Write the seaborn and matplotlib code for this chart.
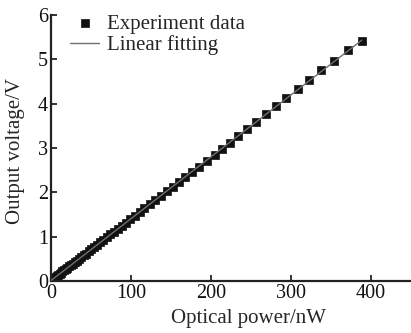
import matplotlib
matplotlib.use("Agg")
import matplotlib.pyplot as plt
import seaborn as sns
import pandas as pd
import numpy as np

power_nw = [0.6, 1.9, 3.2, 4.6, 6.1, 7.6, 9.2, 10.9, 12.6, 14.4, 16.3, 18.3,
            20.4, 22.6, 24.9, 27.3, 29.8, 32.4, 35.1, 37.9, 40.8, 43.9, 47.1,
            50.5, 54.0, 57.7, 61.5, 65.5, 69.7, 74.1, 78.7, 83.5, 88.5, 93.7,
            99.1, 104.8, 110.7, 116.9, 123.4, 130.2, 137.2, 144.6, 152.3, 160.6,
            168.1, 176.5, 185.6, 194.6, 204.6, 213.3, 223.8, 234.0, 245.0, 256.5,
            268.5, 281.0, 294.0, 308.8, 322.6, 338.0, 353.7, 371.0, 388.5]
voltage_v = [0.02, 0.04, 0.06, 0.08, 0.10, 0.12, 0.14, 0.17, 0.19, 0.22, 0.24, 0.27,
             0.30, 0.33, 0.36, 0.39, 0.43, 0.46, 0.50, 0.54, 0.58, 0.62, 0.67,
             0.72, 0.77, 0.82, 0.87, 0.93, 0.99, 1.05, 1.11, 1.18, 1.25, 1.32,
             1.39, 1.47, 1.55, 1.64, 1.73, 1.82, 1.92, 2.02, 2.12, 2.24,
             2.34, 2.46, 2.58, 2.71, 2.85, 2.97, 3.12, 3.26, 3.42, 3.59,
             3.76, 3.94, 4.12, 4.33, 4.53, 4.75, 4.97, 5.20, 5.42]

x_ticks = [0, 100, 200, 300, 400]
y_ticks = [0, 1, 2, 3, 4, 5, 6]

df = pd.DataFrame({"power": power_nw, "voltage": voltage_v})

sns.set_style("ticks")
plt.rcParams["font.family"] = ["Liberation Serif", "DejaVu Serif"]

fig = plt.figure(figsize=(4.11, 3.33), dpi=100)
ax = fig.add_axes([0.124, 0.156, 0.874, 0.799])

sns.regplot(data=df, x="power", y="voltage", ax=ax, scatter=False, ci=None,
            truncate=True, line_kws=dict(color="#707070", lw=1.0, zorder=3),
            label="Linear fitting")
sns.scatterplot(data=df, x="power", y="voltage", ax=ax, marker="s", s=30,
                color="#111111", edgecolor="#111111", linewidth=0.5, zorder=2,
                label="Experiment data")

ax.set_xlim(0, 449)
ax.set_ylim(0, 6)
ax.set_xticks(x_ticks)
ax.set_yticks(y_ticks)
ax.tick_params(direction="in", length=4, width=1.2, labelsize=14.5, pad=2,
               colors="#111111")
for s in ["top", "right"]:
    ax.spines[s].set_visible(False)
for s in ["left", "bottom"]:
    ax.spines[s].set_linewidth(1.6)
    ax.spines[s].set_color("#222222")

ax.set_xlabel("Optical power/nW", fontsize=15, va="center")
ax.set_ylabel("Output voltage/V", fontsize=15, va="center")
ax.xaxis.set_label_coords(0.55, -0.139)
ax.yaxis.set_label_coords(-0.098, 0.49)

handles, labels = ax.get_legend_handles_labels()
order = [labels.index("Experiment data"), labels.index("Linear fitting")]
leg = ax.legend([handles[i] for i in order], [labels[i] for i in order],
                loc="upper left", bbox_to_anchor=(0.03, 1.034), frameon=False,
                fontsize=15, handlelength=1.4, handletextpad=0.35,
                labelspacing=0.05, borderaxespad=0.0)

fig.savefig("out.png", dpi=100)
